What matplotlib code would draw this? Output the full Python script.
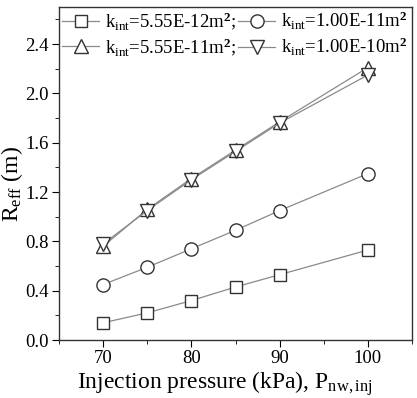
import matplotlib
matplotlib.use("Agg")
import matplotlib.pyplot as plt
from matplotlib.ticker import MultipleLocator

plt.rcParams['font.family'] = ['Liberation Serif', 'DejaVu Serif']
plt.rcParams['mathtext.fontset'] = 'custom'
plt.rcParams['mathtext.rm'] = 'Liberation Serif'
plt.rcParams['mathtext.it'] = 'Liberation Serif:italic'
plt.rcParams['mathtext.bf'] = 'Liberation Serif:bold'

pressure = [70, 75, 80, 85, 90, 100]
r_555e12 = [0.14, 0.22, 0.32, 0.43, 0.53, 0.73]
r_100e11 = [0.45, 0.59, 0.74, 0.89, 1.05, 1.35]
r_555e11 = [0.76, 1.06, 1.31, 1.54, 1.77, 2.21]
r_100e10 = [0.78, 1.05, 1.30, 1.53, 1.76, 2.15]

labels = [r"k$_{\mathrm{int}}$=5.55E-12m$^{\mathbf{2}}$;",
          r"k$_{\mathrm{int}}$=1.00E-11m$^{\mathbf{2}}$",
          r"k$_{\mathrm{int}}$=5.55E-11m$^{\mathbf{2}}$;",
          r"k$_{\mathrm{int}}$=1.00E-10m$^{\mathbf{2}}$"]

fig = plt.figure(figsize=(4.17, 3.98), dpi=100)
ax = fig.add_axes([0.1415, 0.1457, 0.8465, 0.8363])

line_kw = dict(color='#8a8a8a', lw=0.9, mfc='white', mec='#333333', mew=1.0)
h1, = ax.plot(pressure, r_555e12, marker='s', ms=8.5, label=labels[0], **line_kw)
h2, = ax.plot(pressure, r_100e11, marker='o', ms=9.5, label=labels[1], **line_kw)
h3, = ax.plot(pressure, r_555e11, marker='^', ms=10.5, label=labels[2], **line_kw)
h4, = ax.plot(pressure, r_100e10, marker='v', ms=10.5, label=labels[3], **line_kw)

ax.set_xlim(65, 105)
ax.set_ylim(0, 2.7)
ax.xaxis.set_major_locator(MultipleLocator(10))
ax.xaxis.set_minor_locator(MultipleLocator(5))
ax.yaxis.set_major_locator(MultipleLocator(0.4))
ax.yaxis.set_minor_locator(MultipleLocator(0.2))
ax.yaxis.set_major_formatter(matplotlib.ticker.FormatStrFormatter('%.1f'))
ax.tick_params(which='both', direction='out', top=False, right=False, labelsize=13.5)
ax.tick_params(which='major', length=5, pad=2.5)
ax.tick_params(which='minor', length=3)
for s in ax.spines.values():
    s.set_linewidth(1.0)
    s.set_color('#333333')

ax.set_xlabel(r"Injection pressure (kPa), P$_{\mathrm{nw,inj}}$", fontsize=17)
ax.xaxis.set_label_coords(0.47, -0.088)
ax.set_ylabel(r"R$_{\mathrm{eff}}$ (m)", fontsize=17)
ax.yaxis.set_label_coords(-0.097, 0.47)

leg = ax.legend(handles=[h1, h3, h2, h4], ncol=2, loc='upper left', frameon=False,
                fontsize=13.5, handlelength=2.0, handletextpad=0.3, columnspacing=0.1,
                labelspacing=0.2, borderaxespad=0.05, borderpad=0.1)

fig.savefig("out.png", dpi=100)
